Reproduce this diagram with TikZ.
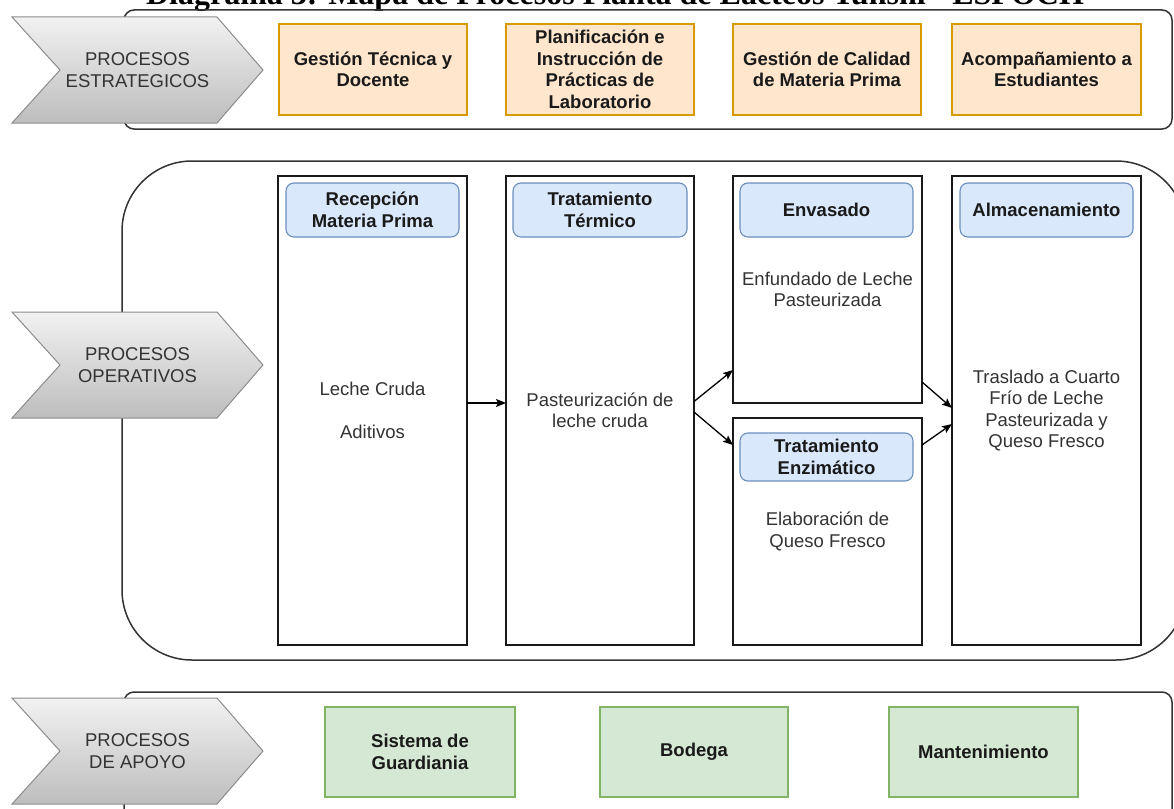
\documentclass[tikz,border=0pt]{standalone}
\usepackage{fontspec}
\setmainfont{Liberation Sans}
\newfontfamily\titlefont{Liberation Serif}
\usetikzlibrary{arrows.meta}
\definecolor{orfill}{HTML}{FFE6CC}
\definecolor{ordraw}{HTML}{D79B00}
\definecolor{blfill}{HTML}{DAE8FC}
\definecolor{bldraw}{HTML}{6C8EBF}
\definecolor{grfill}{HTML}{D5E8D4}
\definecolor{grdraw}{HTML}{82B366}
\definecolor{txt}{HTML}{333333}
\definecolor{dark}{HTML}{1A1A1A}
\definecolor{chevtop}{HTML}{F2F2F2}
\definecolor{chevbot}{HTML}{BDBDBD}
\definecolor{chevline}{HTML}{8C8C8C}
\tikzset{
  base/.style={font=\fontsize{18.5}{21.5}\selectfont, align=center, inner sep=0pt, outer sep=0pt},
  container/.style={draw=txt, line width=1.5pt},
  chev/.style={top color=chevtop, bottom color=chevbot, draw=chevline, line width=1pt},
  chevtext/.style={base, text=txt},
  orbox/.style={base, font=\fontsize{18.5}{21.5}\selectfont\bfseries, text=dark, draw=ordraw, fill=orfill, line width=1.3pt, minimum height=91pt},
  grbox/.style={base, font=\fontsize{18.5}{21.5}\selectfont\bfseries, text=dark, draw=grdraw, fill=grfill, line width=1.3pt, minimum height=90pt},
  lane/.style={base, text=txt, draw=dark, fill=white, line width=1.3pt},
  hdr/.style={base, font=\fontsize{18.5}{21.5}\selectfont\bfseries, text=dark, draw=bldraw, fill=blfill, line width=1.1pt, rounded corners=8pt},
  arr/.style={-{Stealth[length=10pt,width=8pt,inset=2pt]}, line width=1.3pt, draw=black},
}
\begin{document}
\begin{tikzpicture}[x=1pt,y=-1pt]
\useasboundingbox (0,0) rectangle (1174,808);
\clip (0,0) rectangle (1174,808);

% title (cut off at the top)
\node[font=\titlefont\bfseries\fontsize{32}{38}\selectfont, anchor=base, inner sep=0pt] (title) at (615,5) {Diagrama 3: Mapa de Procesos Planta de Lácteos Tunshi - ESPOCH};

% containers
\draw[container, rounded corners=10pt] (124,10) rectangle (1172,129);
\draw[container, rounded corners=70pt] (122,161) rectangle (1186,660);
\draw[container, rounded corners=10pt] (124,692) rectangle (1172,840);

% chevrons
\path[chev] (12,17) -- (217,17) -- (263,70) -- (217,123) -- (12,123) -- (60,70) -- cycle;
\node[chevtext] (pe) at (137.5,70) {PROCESOS\\ESTRATEGICOS};
\path[chev] (12,312) -- (217,312) -- (263,365) -- (217,418) -- (12,418) -- (60,365) -- cycle;
\node[chevtext] (po) at (137.5,365) {PROCESOS\\OPERATIVOS};
\path[chev] (12,698) -- (217,698) -- (263,751) -- (217,804) -- (12,804) -- (60,751) -- cycle;
\node[chevtext] (pa) at (137.5,751) {PROCESOS\\DE APOYO};

% strategic boxes
\node[orbox, minimum width=188pt] (o1) at (373,69.5) {Gestión Técnica y\\Docente};
\node[orbox, minimum width=188pt] (o2) at (600,69.5) {Planificación e\\Instrucción de\\Prácticas de\\Laboratorio};
\node[orbox, minimum width=188pt] (o3) at (827,69.5) {Gestión de Calidad\\de Materia Prima};
\node[orbox, minimum width=189pt] (o4) at (1046.5,69.5) {Acompañamiento a\\Estudiantes};

% operative lanes
\node[lane, minimum width=189pt, minimum height=469pt] (l1) at (372.5,410.5) {Leche Cruda\\\mbox{}\\Aditivos};
\node[lane, minimum width=188pt, minimum height=469pt] (l2) at (600,410.5) {Pasteurización de\\leche cruda};
\node[lane, minimum width=189pt, minimum height=227pt] (env) at (827.5,289.5) {Enfundado de Leche\\Pasteurizada};
\node[lane, minimum width=189pt, minimum height=227pt] (enz) at (827.5,531.5) {Elaboración de\\Queso Fresco};
\node[lane, minimum width=189pt, minimum height=469pt] (alm) at (1046.5,410.5) {Traslado a Cuarto\\Frío de Leche\\Pasteurizada y\\Queso Fresco};

% headers
\node[hdr, minimum width=173pt, minimum height=54pt] (h1) at (372.5,210) {Recepción\\Materia Prima};
\node[hdr, minimum width=174pt, minimum height=54pt] (h2) at (600,210) {Tratamiento\\Térmico};
\node[hdr, minimum width=173pt, minimum height=54pt] (h3) at (826.5,210) {Envasado};
\node[hdr, minimum width=173pt, minimum height=54pt] (h4) at (1046.5,210) {Almacenamiento};
\node[hdr, minimum width=173pt, minimum height=48pt] (h5) at (826.5,457) {Tratamiento\\Enzimático};

% arrows
\draw[arr] ([yshift=7.5pt]l1.east) -- ([yshift=7.5pt]l2.west);
\draw[arr] ([yshift=9pt]l2.east) -- ([yshift=33pt]env.south west);
\draw[arr] ([yshift=-1.5pt]l2.east) -- ([yshift=-27pt]enz.north west);
\draw[arr] ([yshift=21pt]env.south east) -- ([yshift=2.5pt]alm.west);
\draw[arr] ([yshift=-27pt]enz.north east) -- ([yshift=-13.5pt]alm.west);

% support boxes
\node[grbox, minimum width=190pt] (g1) at (420,752) {Sistema de\\Guardiania};
\node[grbox, minimum width=188pt] (g2) at (694,752) {Bodega};
\node[grbox, minimum width=189pt] (g3) at (983.5,752) {Mantenimiento};
\end{tikzpicture}
\end{document}
